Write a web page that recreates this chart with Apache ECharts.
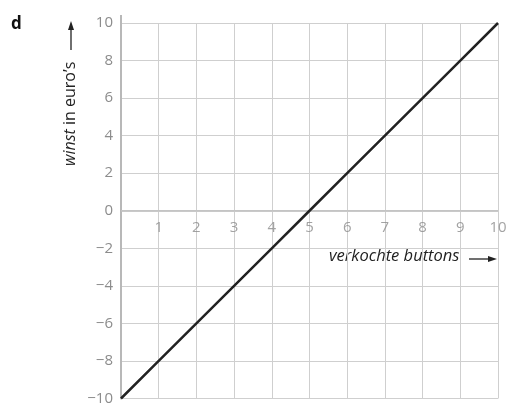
<!DOCTYPE html>
<html><head><meta charset="utf-8">
<script src="https://cdn.jsdelivr.net/npm/echarts@6/dist/echarts.min.js"></script>
<style>html,body{margin:0;padding:0;background:#fff}#c{width:507px;height:406px}</style>
</head><body><div id="c"></div>
<script>
const xValues = [0,1,2,3,4,5,6,7,8,9,10];
const yValues = [-10,-8,-6,-4,-2,0,2,4,6,8,10];
const xTickLabels = ['', '1','2','3','4','5','6','7','8','9','10'];
const partLabel = 'd';
const xName = 'verkochte buttons';
const yNameItalic = 'winst';
const yNameRest = ' in euro\u2019s';

const font = '"Open Sans", "Noto Sans", sans-serif';
const chart = echarts.init(document.getElementById('c'));
chart.setOption({
  animation: false,
  grid: {left: 121, top: 23, right: 9, bottom: 5, containLabel: false},
  xAxis: {
    type: 'value', min: 0, max: 10, interval: 1,
    axisLine: {show: false},
    axisTick: {show: false},
    splitLine: {show: true, lineStyle: {color: '#cfcfcf', width: 1}},
    axisLabel: {show: false}
  },
  yAxis: {
    type: 'value', min: -10, max: 10, interval: 2,
    axisLine: {show: true, onZero: false, lineStyle: {color: '#b8b8b8', width: 2}},
    axisTick: {show: false},
    splitLine: {show: true, lineStyle: {color: '#cfcfcf', width: 1}},
    axisLabel: {
      color: '#8c8c8c', fontFamily: font, fontSize: 15, margin: 8,
      formatter: v => String(v).replace('-', '\u2212')
    }
  },
  graphic: [
    {type: 'text', left: 11, top: 16, style: {text: partLabel, font: 'bold 17px ' + font, fill: '#111'}},
    {type: 'line', shape: {x1: 121, y1: 15, x2: 121, y2: 23}, style: {stroke: '#b8b8b8', lineWidth: 2}},
    {type: 'text', x: 62, y: 166, rotation: Math.PI/2,
     style: {rich: {i: {font: 'italic 16px ' + font, fill: '#222'}, n: {font: '16px ' + font, fill: '#222'}},
             text: '{i|' + yNameItalic + '}{n|' + yNameRest + '}'}},
    {type: 'line', shape: {x1: 71, y1: 50, x2: 71, y2: 28}, style: {stroke: '#222', lineWidth: 1.3}},
    {type: 'polygon', shape: {points: [[71, 21], [68, 30], [74, 30]]}, style: {fill: '#222'}},
    {type: 'text', x: 329, y: 248,
     style: {rich: {i: {font: 'italic 16.5px ' + font, fill: '#222'}},
             text: '{i|' + xName + '}'}},
    {type: 'line', shape: {x1: 469, y1: 259, x2: 490, y2: 259}, style: {stroke: '#222', lineWidth: 1.3}},
    {type: 'polygon', shape: {points: [[497, 259], [488, 256], [488, 262]]}, style: {fill: '#222'}}
  ],
  series: [
    {
      type: 'line', symbol: 'none', silent: true, z: 1,
      data: [[xValues[0], 0], [xValues[xValues.length - 1], 0]],
      lineStyle: {color: '#c4c4c4', width: 1.5}
    },
    {
      type: 'scatter', symbolSize: 0, silent: true,
      data: xValues.map((x, i) => ({value: [x, 0], label: {formatter: xTickLabels[i]}})),
      label: {show: true, position: 'bottom', distance: 9, color: '#8c8c8c', fontFamily: font, fontSize: 15}
    },
    {
      type: 'line', symbol: 'none', z: 3,
      data: xValues.map((x, i) => [x, yValues[i]]),
      lineStyle: {color: '#222', width: 2.5}
    }
  ]
});
</script></body></html>
